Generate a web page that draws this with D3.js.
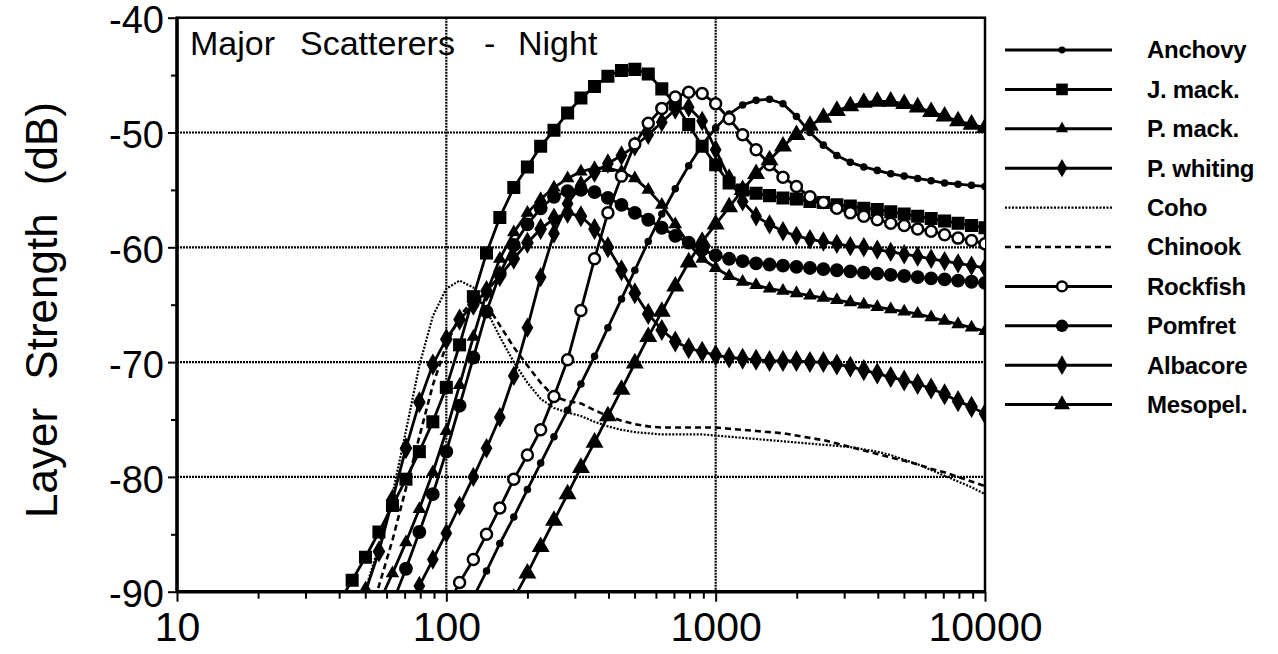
<!DOCTYPE html>
<html><head><meta charset="utf-8">
<script src="https://cdn.jsdelivr.net/npm/d3@7"></script>
<style>body{margin:0;background:#fff}svg{display:block}text{font-family:"Liberation Sans",Arial,Helvetica,sans-serif}</style>
</head><body><svg id="c" width="1278" height="654"></svg>
<script>
// frequency grid (Hz), 20 points per decade
const freqs = [39.8,44.7,50.1,56.2,63.1,70.8,79.4,89.1,100,112,126,141,158,178,200,224,251,282,316,355,398,447,501,562,631,708,794,891,1000,1122,1259,1413,1585,1778,1995,2239,2512,2818,3162,3548,3981,4467,5012,5623,6310,7079,7943,8913,10000];
const N = null;
const anchovy = [N,N,N,N,N,N,N,N,N,N,-90.5,-88.2,-85.8,-83.5,-81.1,-78.8,-76.5,-74.2,-71.9,-69.5,-67.0,-64.5,-62.0,-59.5,-57.1,-54.9,-52.9,-51.1,-49.6,-48.4,-47.6,-47.2,-47.1,-47.5,-48.6,-50.0,-51.1,-52.0,-52.6,-53.0,-53.3,-53.6,-53.8,-54.0,-54.2,-54.4,-54.5,-54.6,-54.7];
const jmack = [-91.0,-89.0,-87.0,-84.8,-82.5,-80.2,-77.8,-75.2,-72.2,-68.5,-64.3,-60.5,-57.4,-54.8,-53.0,-51.2,-49.8,-48.3,-47.0,-46.0,-45.1,-44.6,-44.5,-44.9,-46.2,-47.5,-49.3,-51.2,-52.8,-54.4,-55.0,-55.3,-55.5,-55.7,-55.8,-56.0,-56.1,-56.3,-56.4,-56.6,-56.7,-56.9,-57.1,-57.3,-57.5,-57.7,-57.9,-58.1,-58.3];
const pmack = [N,N,N,-91.0,-88.4,-85.7,-82.8,-79.6,-76.0,-72.0,-67.8,-64.0,-61.0,-58.7,-57.0,-55.8,-54.8,-54.0,-53.4,-53.1,-53.1,-53.4,-54.0,-55.0,-56.3,-58.0,-59.7,-61.0,-61.8,-62.5,-63.0,-63.3,-63.6,-63.8,-64.0,-64.2,-64.4,-64.6,-64.8,-65.0,-65.2,-65.4,-65.6,-65.8,-66.1,-66.4,-66.7,-67.0,-67.3];
const pwhiting = [N,N,N,N,N,-91.8,-89.5,-87.2,-84.9,-82.5,-80.0,-77.5,-74.8,-71.2,-67.0,-62.6,-58.8,-56.2,-54.6,-53.5,-52.7,-52.0,-51.2,-50.2,-49.1,-48.0,-47.8,-49.0,-51.5,-54.0,-56.0,-57.3,-58.0,-58.6,-59.0,-59.3,-59.5,-59.7,-59.9,-60.0,-60.2,-60.4,-60.6,-60.8,-61.0,-61.2,-61.4,-61.6,-61.8];
const coho = [N,-93.0,-89.8,-86.0,-81.5,-76.0,-70.3,-66.0,-63.6,-62.9,-63.5,-65.5,-67.8,-70.0,-71.8,-73.2,-74.0,-74.4,-74.7,-75.2,-75.6,-75.9,-76.1,-76.2,-76.3,-76.3,-76.3,-76.3,-76.4,-76.5,-76.6,-76.7,-76.8,-76.9,-77.0,-77.1,-77.2,-77.3,-77.4,-77.6,-77.8,-78.1,-78.5,-78.9,-79.4,-79.9,-80.4,-80.9,-81.5];
const chinook = [N,N,-93.0,-89.5,-85.5,-81.0,-76.5,-72.0,-68.5,-66.0,-64.6,-65.0,-66.8,-68.7,-70.3,-71.8,-73.0,-73.4,-73.6,-74.2,-74.7,-75.1,-75.4,-75.6,-75.7,-75.7,-75.7,-75.7,-75.7,-75.8,-75.9,-76.0,-76.1,-76.2,-76.4,-76.6,-76.8,-77.1,-77.4,-77.7,-78.0,-78.3,-78.6,-78.9,-79.3,-79.6,-80.0,-80.4,-80.8];
const rockfish = [N,N,N,N,N,N,N,N,-91.5,-89.2,-87.2,-85.0,-82.7,-80.2,-78.1,-75.9,-73.0,-69.8,-65.5,-61.0,-57.0,-53.8,-51.0,-49.2,-47.9,-46.9,-46.5,-46.6,-47.5,-48.8,-50.2,-51.5,-52.8,-53.9,-54.7,-55.6,-56.1,-56.6,-57.0,-57.3,-57.6,-57.9,-58.1,-58.4,-58.6,-58.9,-59.2,-59.4,-59.7];
const pomfret = [N,N,N,N,-91.0,-88.0,-84.8,-81.5,-77.8,-73.8,-69.6,-65.6,-62.3,-59.8,-58.0,-56.6,-55.6,-55.1,-55.0,-55.2,-55.7,-56.3,-57.0,-57.6,-58.3,-59.0,-59.6,-60.2,-60.7,-61.0,-61.2,-61.4,-61.5,-61.6,-61.7,-61.8,-61.9,-62.0,-62.1,-62.2,-62.3,-62.4,-62.5,-62.6,-62.7,-62.8,-62.9,-63.0,-63.1];
const albacore = [N,-92.5,-90.0,-86.5,-82.0,-77.5,-73.5,-70.2,-68.0,-66.3,-65.0,-63.8,-62.5,-61.0,-59.6,-58.4,-57.5,-57.0,-57.3,-58.4,-60.0,-62.0,-64.0,-65.8,-67.2,-68.2,-68.8,-69.1,-69.4,-69.6,-69.7,-69.8,-69.9,-69.9,-69.9,-70.0,-70.0,-70.2,-70.4,-70.7,-71.0,-71.3,-71.6,-71.9,-72.3,-72.8,-73.4,-73.9,-74.5];
const mesopel = [N,N,N,N,N,N,N,N,N,N,N,N,N,-90.6,-88.4,-86.1,-83.8,-81.5,-79.2,-77.0,-74.7,-72.4,-70.1,-67.8,-65.6,-63.4,-61.3,-59.5,-58.0,-56.5,-55.0,-53.6,-52.4,-51.2,-50.2,-49.4,-48.7,-48.1,-47.7,-47.4,-47.3,-47.3,-47.5,-47.8,-48.2,-48.6,-49.0,-49.3,-49.6];

const seriesNames = ["Anchovy","J. mack.","P. mack.","P. whiting","Coho","Chinook","Rockfish","Pomfret","Albacore","Mesopel."];
const seriesValues = [anchovy,jmack,pmack,pwhiting,coho,chinook,rockfish,pomfret,albacore,mesopel];
const xTickValues = [10,100,1000,10000];
const xTickLabels = ["10","100","1000","10000"];
const yTickValues = [-90,-80,-70,-60,-50,-40];
const yTickLabels = ["-90","-80","-70","-60","-50","-40"];
const titleWords = ["Major","Scatterers","-","Night"];
const yTitle = "Layer Strength (dB)";

// styles per series
const styles = [
  {marker:"circle", size:45, fill:"#000"},
  {marker:"square", size:170, fill:"#000"},
  {marker:"triangle", size:80, fill:"#000"},
  {marker:"diamond", size:120, fill:"#000"},
  {marker:null, dash:"2,1.5", width:2.2},
  {marker:null, dash:"6,4", width:2.6},
  {marker:"circle", size:95, fill:"#fff", stroke:2.5},
  {marker:"circle", size:150, fill:"#000"},
  {marker:"diamond", size:140, fill:"#000"},
  {marker:"triangle", size:140, fill:"#000"}
];

const svg = d3.select("#c");
svg.append("rect").attr("width",1278).attr("height",654).attr("fill","#fff");
const L=177,R=985,T=17.7,B=591.7;
const x = d3.scaleLog().domain([10,10000]).range([L,R]);
const y = d3.scaleLinear().domain([-90,-40]).range([B,T]);

svg.append("defs").append("clipPath").attr("id","clip").append("rect")
  .attr("x",L).attr("y",T).attr("width",R-L).attr("height",B-T);

// grid
const g = svg.append("g");
[-80,-70,-60,-50].forEach(v=>g.append("line").attr("x1",L).attr("x2",R).attr("y1",y(v)).attr("y2",y(v))
  .attr("stroke","#000").attr("stroke-width",2.2).attr("stroke-dasharray","2,1"));
[100,1000].forEach(v=>g.append("line").attr("y1",T).attr("y2",B).attr("x1",x(v)).attr("x2",x(v))
  .attr("stroke","#000").attr("stroke-width",2.2).attr("stroke-dasharray","2,1"));

// axes
const yAxis = d3.axisLeft(y).tickValues(yTickValues).tickSize(9).tickPadding(4).tickFormat((d,i)=>yTickLabels[i]);
const ya = svg.append("g").attr("transform",`translate(${L},0)`).call(yAxis);
ya.selectAll("text").attr("font-size","38px").attr("dy","0.4em");
svg.append("g").attr("transform",`translate(${L},0)`).call(d3.axisLeft(y).tickValues([-85,-75,-65,-55,-45]).tickSize(6).tickFormat(""));
const xAxis = d3.axisBottom(x).tickValues(xTickValues).tickSize(10).tickPadding(10).tickFormat((d,i)=>xTickLabels[i]);
const xa = svg.append("g").attr("transform",`translate(0,${B})`).call(xAxis);
xa.selectAll("text").attr("font-size","41px");
const minorX=[];
[10,100,1000].forEach(d=>{for(let k=2;k<=9;k++)minorX.push(d*k);});
svg.append("g").attr("transform",`translate(0,${B})`).call(d3.axisBottom(x).tickValues(minorX).tickSize(7).tickFormat(""));
svg.selectAll(".tick line").attr("stroke","#000").attr("stroke-width",2);
svg.selectAll(".domain").remove();
svg.selectAll(".tick text").attr("fill","#000").attr("font-family","Liberation Sans, Arial, sans-serif");

// frame
svg.append("rect").attr("x",L).attr("y",T).attr("width",R-L).attr("height",B-T).attr("fill","none").attr("stroke","#000").attr("stroke-width",2.5);
svg.append("line").attr("x1",L).attr("x2",L).attr("y1",T-1).attr("y2",B+1.5).attr("stroke","#000").attr("stroke-width",3.5);
svg.append("line").attr("x1",L).attr("x2",R).attr("y1",B).attr("y2",B).attr("stroke","#000").attr("stroke-width",3.5);

// series
const symType = {circle:d3.symbolCircle, square:d3.symbolSquare, triangle:d3.symbolTriangle, diamond:d3.symbolDiamond};
const plot = svg.append("g").attr("clip-path","url(#clip)");
const line = d3.line().defined(d=>d.v!==null).x(d=>x(d.f)).y(d=>y(d.v));
seriesValues.forEach((vals,si)=>{
  const st = styles[si];
  const pts = freqs.map((f,i)=>({f, v: vals[i]}));
  plot.append("path").datum(pts).attr("d",line).attr("fill","none").attr("stroke","#000")
    .attr("stroke-width",st.width||2.8).attr("stroke-dasharray",st.dash||null).attr("stroke-linejoin","round");
  if(st.marker){
    plot.selectAll(null).data(pts.filter(d=>d.v!==null)).enter().append("path")
      .attr("d",d3.symbol().type(symType[st.marker]).size(st.size))
      .attr("transform",d=>`translate(${x(d.f)},${y(d.v)})`)
      .attr("fill",st.fill).attr("stroke","#000").attr("stroke-width",st.stroke||0);
  }
});

// title
const tt = svg.append("text").attr("y",55).attr("font-size","34px").attr("fill","#000");
const wx = [190,300,484,518];
titleWords.forEach((w,i)=>tt.append("tspan").attr("x",wx[i]).text(w));

// y title
svg.append("text").attr("transform","translate(57,310) rotate(-90)").attr("text-anchor","middle")
  .attr("font-size","44px").attr("fill","#000").attr("word-spacing","16px").text(yTitle);

// legend
const lg = svg.append("g");
seriesNames.forEach((name,i)=>{
  const st = styles[i];
  const yy = 50 + i*39.4;
  lg.append("line").attr("x1",1005).attr("x2",1112).attr("y1",yy).attr("y2",yy).attr("stroke","#000")
    .attr("stroke-width",st.width||3).attr("stroke-dasharray",st.dash||null);
  if(st.marker){
    lg.append("path").attr("d",d3.symbol().type(symType[st.marker]).size(st.size*0.8))
      .attr("transform",`translate(1062,${yy})`).attr("fill",st.fill).attr("stroke","#000").attr("stroke-width",st.stroke||0);
  }
  lg.append("text").attr("x",1147).attr("y",yy).attr("dy","0.35em").attr("font-size","24px")
    .attr("font-weight","bold").attr("letter-spacing","-0.3px").attr("fill","#000").text(name);
});
</script></body></html>
